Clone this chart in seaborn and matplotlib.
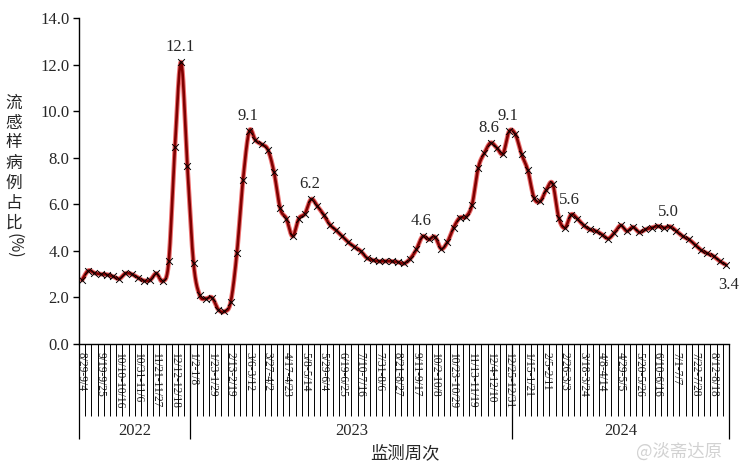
import numpy as np
import pandas as pd
import matplotlib
matplotlib.use("Agg")
import matplotlib.pyplot as plt
import seaborn as sns

# ---------------- data ----------------
values = [2.75, 3.15, 3.05, 3.00, 2.98, 2.90, 2.80, 3.03, 3.00, 2.85,
          2.72, 2.75, 3.03, 2.70, 3.55, 8.47, 12.10, 7.64, 3.48, 2.09,
          1.95, 1.99, 1.48, 1.40, 1.80, 3.89, 7.06, 9.14, 8.75, 8.57,
          8.35, 7.38, 5.82, 5.38, 4.63, 5.38, 5.60, 6.22, 5.92, 5.56,
          5.13, 4.89, 4.63, 4.37, 4.17, 3.99, 3.70, 3.60, 3.55, 3.56,
          3.55, 3.52, 3.46, 3.66, 4.06, 4.62, 4.49, 4.60, 4.09, 4.37,
          4.99, 5.42, 5.46, 5.99, 7.57, 8.21, 8.64, 8.42, 8.18, 9.14,
          9.00, 8.14, 7.46, 6.28, 6.13, 6.63, 6.89, 5.42, 4.99, 5.56,
          5.38, 5.10, 4.92, 4.85, 4.70, 4.53, 4.78, 5.09, 4.85, 5.02,
          4.80, 4.92, 4.99, 5.06, 4.99, 5.04, 4.85, 4.63, 4.49, 4.27,
          4.03, 3.89, 3.77, 3.56, 3.40]

week_labels = ["8/29-9/4", "9/19-9/25", "10/10-10/16", "10/31-11/6", "11/21-11/27",
               "12/12-12/18", "1/2-1/8", "1/23-1/29", "2/13-2/19", "3/6-3/12",
               "3/27-4/2", "4/17-4/23", "5/8-5/14", "5/29-6/4", "6/19-6/25",
               "7/10-7/16", "7/31-8/6", "8/21-8/27", "9/11-9/17", "10/2-10/8",
               "10/23-10/29", "11/13-11/19", "12/4-12/10", "12/25-12/31", "1/15-1/21",
               "2/5-2/11", "2/26-3/3", "3/18-3/24", "4/8-4/14", "4/29-5/5",
               "5/20-5/26", "6/10-6/16", "7/1-7/7", "7/22-7/28", "8/12-8/18"]

years = ["2022", "2023", "2024"]
year_weeks = [18, 52, 35]

labelled_points = [16, 27, 37, 55, 66, 69, 79, 95, 104]

ylabel_chars = "流感样病例占比"

# ---------------- style ----------------
sns.set_theme(style="ticks")
plt.rcParams["font.family"] = ["Liberation Serif", "Noto Sans CJK SC", "DejaVu Sans"]

W, H = 751, 472
fig = plt.figure(figsize=(W / 100, H / 100), dpi=100)
ax_left, ax_right, ax_top, ax_bot = 79, 729, 18, 344
ax_h = ax_bot - ax_top
ax = fig.add_axes([ax_left / W, 1 - ax_bot / H, (ax_right - ax_left) / W, ax_h / H])

n = len(values)
xi = np.arange(n)
yv = np.array(values)

# smoothed (Excel-like) curve built from the data points
p = np.column_stack([xi, yv]).astype(float)
pp = np.vstack([p[0], p, p[-1]])
t = np.linspace(0, 1, 20)[:, None]
segs = []
for i in range(1, len(pp) - 2):
    p0, p1, p2, p3 = pp[i - 1], pp[i], pp[i + 1], pp[i + 2]
    c1 = p1 + (p2 - p0) / 6.0
    c2 = p2 - (p3 - p1) / 6.0
    seg = ((1 - t) ** 3) * p1 + 3 * ((1 - t) ** 2) * t * c1 + 3 * (1 - t) * t ** 2 * c2 + t ** 3 * p2
    segs.append(seg if i == 1 else seg[1:])
curve = np.vstack(segs)
curve_df = pd.DataFrame({"x": curve[:, 0], "y": curve[:, 1]})
pts_df = pd.DataFrame({"x": xi, "y": yv})

sns.lineplot(data=curve_df, x="x", y="y", sort=False, estimator=None,
             color="#e01515", linewidth=3.4, alpha=0.6, ax=ax, zorder=3)
sns.lineplot(data=curve_df, x="x", y="y", sort=False, estimator=None,
             color="#800000", linewidth=1.9, ax=ax, zorder=4)
sns.scatterplot(data=pts_df, x="x", y="y", marker="x", color="black",
                s=24, linewidth=0.7, ax=ax, zorder=5)

# data labels
for i in labelled_points:
    if i == n - 1:
        ax.annotate(f"{values[i]:.1f}", (i, values[i]), xytext=(2, -9),
                    textcoords="offset points", ha="center", va="top", fontsize=12)
    else:
        ax.annotate(f"{values[i]:.1f}", (i, values[i]), xytext=(-1, 5),
                    textcoords="offset points", ha="center", va="bottom", fontsize=12)

# axes
ax.set_xlim(-0.5, n - 0.5)
ax.set_ylim(0, 14)
ax.set_yticks(np.arange(0, 14.01, 2))
ax.set_yticklabels([f"{v:.1f}" for v in np.arange(0, 14.01, 2)], fontsize=12)
ax.set_xlabel("")
ax.set_ylabel("")
sns.despine(ax=ax)
for s in ["left", "bottom"]:
    ax.spines[s].set_color("black")
    ax.spines[s].set_linewidth(1.0)
ax.tick_params(axis="y", direction="out", length=4, width=1, color="black", pad=3)

ax.set_xticks(np.arange(0, n, 3))
ax.set_xticklabels(week_labels, rotation=-90, fontsize=8.3, va="top", ha="center")
ax.set_xticks(np.arange(-0.5, n, 1), minor=True)
ax.tick_params(axis="x", which="major", length=0, pad=6)
ax.tick_params(axis="x", which="minor", direction="out", length=72 * 0.72,
               width=0.7, color="black")

# year groups
trans = ax.get_xaxis_transform()
bounds = np.concatenate([[0], np.cumsum(year_weeks)]) - 0.5
ax.vlines(bounds, -95 / ax_h, 0, transform=trans, clip_on=False, color="black", lw=0.9)
for k, yr in enumerate(years):
    ax.text((bounds[k] + bounds[k + 1]) / 2, -87 / ax_h, yr, transform=trans,
            ha="center", va="center", fontsize=12)

# axis titles
fig.text(405 / W, 1 - 453 / H, "监测周次", ha="center", va="center", fontsize=12.5,
         family=["Noto Sans CJK SC", "DejaVu Sans"])
for k, ch in enumerate(ylabel_chars):
    fig.text(14 / W, 1 - (103 + 20 * k) / H, ch, ha="center", va="center", fontsize=12,
             family=["Noto Sans CJK SC", "DejaVu Sans"])
fig.text(14 / W, 1 - 246 / H, "(%)", ha="center", va="center", fontsize=11.5,
         rotation=-90, family=["Noto Sans CJK SC", "DejaVu Sans"])

fig.text(0.962, 1 - 452 / H, "@淡斋达原", ha="right", va="center", fontsize=12.5,
         color="#d2d2d2", family=["Noto Sans CJK SC", "DejaVu Sans"])

fig.savefig("out.png", dpi=100)
